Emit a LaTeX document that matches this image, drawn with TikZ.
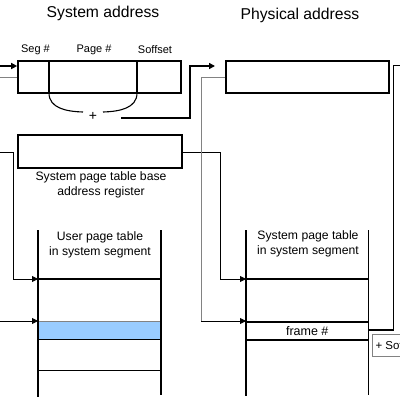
\documentclass[tikz,border=0pt]{standalone}
\usepackage{fontspec}
\setmainfont{Liberation Sans}
\usetikzlibrary{arrows.meta}
\definecolor{rowblue}{RGB}{153,204,255}
\definecolor{linegray}{RGB}{130,130,130}
\begin{document}
\begin{tikzpicture}[x=1pt,y=-1pt,
  heavy/.style={line width=1.7pt},
  regbox/.style={draw, line width=1.7pt, inner sep=0pt},
  title/.style={font=\fontsize{15.7}{18}\selectfont, inner sep=0pt},
  small/.style={font=\fontsize{11}{12}\selectfont, inner sep=0pt},
  lbl/.style={font=\fontsize{12.2}{14.5}\selectfont, align=center, inner sep=0pt},
  conn/.style={line width=0.9pt},
  grayconn/.style={line width=0.9pt, draw=linegray},
  tip/.style={-{Triangle[length=6pt,width=6pt]}},
  tabedge/.style={line width=1.4pt},
  rowline/.style={line width=1.4pt}]
\useasboundingbox (0,0) rectangle (400,400);
\clip (0,0) rectangle (400,400);
\fill[white] (0,0) rectangle (400,400);

% titles
\node[title] (t1) at (103,13) {System address};
\node[title] (t2) at (300,15) {Physical address};

% system address register
\node[regbox, minimum width=163pt, minimum height=32pt] (sa) at (99.5,77) {};
\node[small] (lseg) at (35.5,50) {Seg \#};
\node[small] (lpage) at (94,50) {Page \#};
\node[small] (loff) at (155,50) {Soffset};
\coordinate (d1t) at (49,61); \coordinate (d1b) at (49,93);
\coordinate (d2t) at (137,61); \coordinate (d2b) at (137,93);
\draw[line width=1.1pt] (d1t) -- (d1b);
\draw[line width=1.1pt] (d2t) -- (d2b);

% adder arc
\node[font=\fontsize{14}{15}\selectfont, inner sep=0pt] (plus) at (93,116) {+};
\coordinate (arcL) at (83,112);
\coordinate (arcR) at (103,112);
\draw[line width=1.1pt] (d1b) .. controls (49,108) and (66,111.5) .. (arcL);
\draw[line width=1.1pt] (arcR) .. controls (120,111.5) and (137,108) .. (d2b);

% physical address register
\node[regbox, minimum width=163pt, minimum height=32pt] (pa) at (307.5,77) {};
\coordinate (sumOut) at (121,118);
\coordinate (paIn) at (215,66);
\draw[heavy, tip] (sumOut) -- (190,118) -- (190,66) -- (paIn);

% inputs from the left to system address
\coordinate (inA) at (0,66);
\coordinate (inB) at (0,77);
\draw[heavy, tip] (inA) -- (sa.west |- inA);
\draw[grayconn] (inB) -- (sa.west |- inB);

% system page table base register
\node[regbox, minimum width=164pt, minimum height=33pt] (reg) at (100,151.5) {};
\node[lbl] (reglbl) at (101,185) {System page table base\\address register};

% user page table
\node[lbl] (utl) at (100,245) {User page table\\in system segment};
\coordinate (utTL) at (38,230); \coordinate (utBL) at (38,397);
\coordinate (utTR) at (161,230); \coordinate (utBR) at (161,395);
\node[fill=rowblue, draw=linegray, line width=0.8pt, minimum width=123pt, minimum height=18pt, inner sep=0pt] (urow) at (99.5,330) {};
\draw[rowline] (38,279) -- (161,279);
\draw[rowline] (38,339.5) -- (161,339.5);
\draw[rowline] (38,370.5) -- (161,370.5);
\draw[line width=1.1pt] (utTL) -- (utBL);
\draw[tabedge] (utTR) -- (utBR);

% system page table
\node[lbl] (stl) at (308,244) {System page table\\in system segment};
\coordinate (stTL) at (246,230); \coordinate (stBL) at (246,396);
\coordinate (stTR) at (368.5,230); \coordinate (stBR) at (368.5,395);
\draw[rowline] (246,279) -- (368.5,279);
\node[draw, line width=1.4pt, minimum width=122.5pt, minimum height=18pt, inner sep=0pt,
      font=\fontsize{12.5}{14}\selectfont] (frame) at (307.25,331) {frame \#};
\draw[tabedge] (stTL) -- (stBL);
\draw[tabedge] (stTR) -- (stBR);

% connectors into the tables
\coordinate (inC) at (0,152);
\coordinate (inD) at (0,321);
\draw[conn, tip] (inC) -- (13,152) -- (13,279) -- (38,279);
\draw[conn, tip] (inD) -- (38,321);
\draw[conn, tip] (reg.east |- 0,152) -- (220,152) -- (220,279) -- (246,279);
\draw[grayconn] (pa.west) -- (201,77) -- (201,321);
\draw[conn, tip] (201,321) -- (246,321);

% frame number to the right
\coordinate (outR) at (400,65.5);
\draw[heavy] (frame.east |- 0,330) -- (393.5,330) -- (393.5,65.5) -- (outR);

% + Soffset box
\node[draw=linegray, line width=1pt, anchor=north west, minimum height=22pt, inner sep=3pt,
      font=\fontsize{11.5}{13}\selectfont] (soff) at (372,333.5) {+ Soffset\hspace{20pt}};
\end{tikzpicture}
\end{document}
